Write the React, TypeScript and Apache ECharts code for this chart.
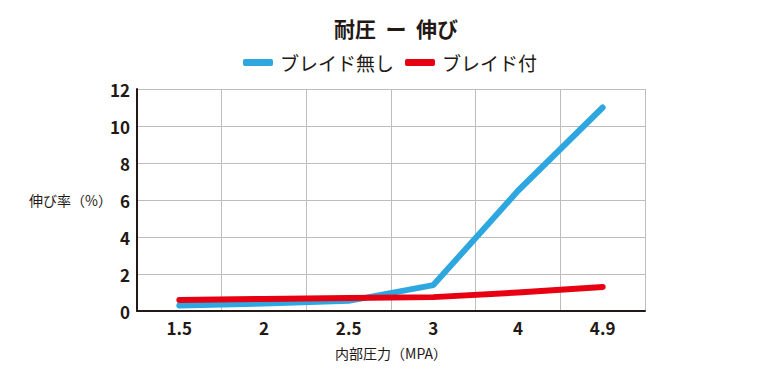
import React, { useEffect, useRef } from "react";
import * as echarts from "echarts";

const categories = ["1.5", "2", "2.5", "3", "4", "4.9"];
const withoutBraid = [0.3, 0.4, 0.55, 1.4, 6.5, 11.0];
const withBraid = [0.6, 0.65, 0.7, 0.75, 1.0, 1.3];
const seriesNames = ["ブレイド無し", "ブレイド付"];

const FONT = '"Noto Sans CJK JP", "Noto Sans", sans-serif';
const TEXT = "#231815";

export default function App() {
  const ref = useRef<HTMLDivElement>(null);
  useEffect(() => {
    if (!ref.current) return;
    const chart = echarts.init(ref.current, null, { renderer: "svg" });
    chart.setOption({
      animation: false,
      backgroundColor: "#ffffff",
      textStyle: { fontFamily: FONT, color: TEXT },
      title: {
        text: "耐圧  ー  伸び",
        left: 391,
        textAlign: "center",
        top: 12,
        textStyle: { fontFamily: FONT, fontSize: 21, fontWeight: "bold", color: TEXT },
      },
      legend: {
        top: 53,
        left: 243,
        padding: 0,
        itemWidth: 30,
        itemHeight: 7,
        itemGap: 11,
        icon: "roundRect",
        textStyle: { fontFamily: FONT, fontSize: 19, color: TEXT, padding: [0, 0, 0, 2] },
        data: seriesNames,
      },
      grid: { left: 137, right: 115, top: 89, bottom: 69, containLabel: false },
      xAxis: {
        type: "category",
        data: categories,
        boundaryGap: true,
        name: "内部圧力（MPA）",
        nameLocation: "middle",
        nameGap: 35,
        nameMoveOverlap: false,
        nameTextStyle: { fontFamily: FONT, fontSize: 14, color: TEXT },
        axisLine: { show: true, lineStyle: { color: TEXT, width: 2 } },
        axisTick: { show: false },
        axisLabel: { fontFamily: FONT, fontSize: 17, fontWeight: 600, color: TEXT, margin: 8 },
        splitLine: { show: true, lineStyle: { color: "#bdbdbd", width: 1 } },
      },
      yAxis: {
        type: "value",
        min: 0,
        max: 12,
        interval: 2,
        name: "伸び率（%）",
        nameLocation: "middle",
        nameRotate: 0,
        nameGap: 25,
        nameMoveOverlap: false,
        nameTextStyle: { fontFamily: FONT, fontSize: 14, color: TEXT, align: "right" },
        axisLine: { show: true, lineStyle: { color: TEXT, width: 2 } },
        axisTick: { show: false },
        axisLabel: { fontFamily: FONT, fontSize: 17, fontWeight: 600, color: TEXT, margin: 7 },
        splitLine: { show: true, lineStyle: { color: "#bdbdbd", width: 1 } },
      },
      series: [
        {
          name: seriesNames[0],
          type: "line",
          data: withoutBraid,
          showSymbol: false,
          symbol: "none",
          color: "#2ea7e0",
          lineStyle: { width: 6, color: "#2ea7e0", cap: "round", join: "round" },
          z: 2,
        },
        {
          name: seriesNames[1],
          type: "line",
          data: withBraid,
          showSymbol: false,
          symbol: "none",
          color: "#e60012",
          lineStyle: { width: 6, color: "#e60012", cap: "round", join: "round" },
          z: 3,
        },
      ],
    });
    return () => chart.dispose();
  }, []);
  return (
    <div
      ref={ref}
      style={{ position: "fixed", left: 0, top: 0, width: 760, height: 380 }}
    />
  );
}
